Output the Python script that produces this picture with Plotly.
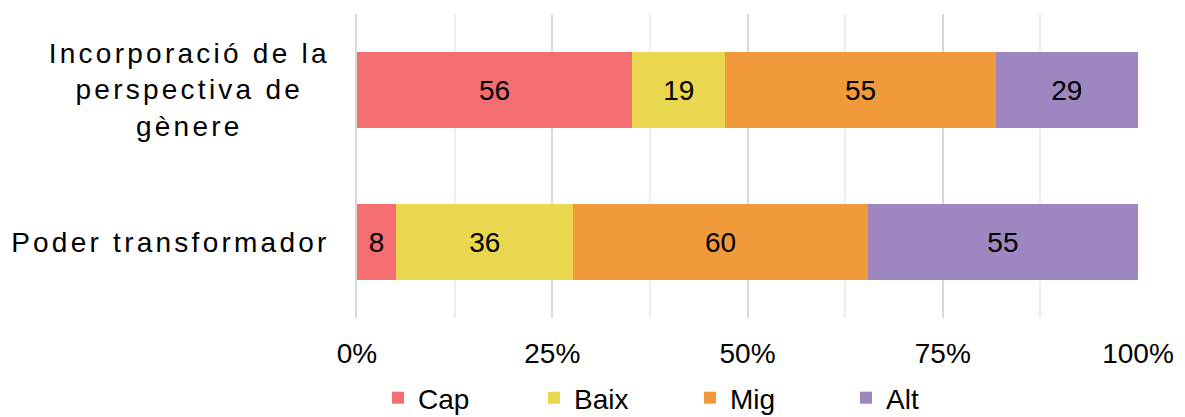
import plotly.graph_objects as go

# Survey results: number of responses per level for each dimension
categories = ["Incorporació de la perspectiva de gènere", "Poder transformador"]
category_labels = ["Incorporació de la<br>perspectiva de<br>gènere", "Poder transformador"]
levels = ["Cap", "Baix", "Mig", "Alt"]
cap = [56, 8]
baix = [19, 36]
mig = [55, 60]
alt = [29, 55]
series = [cap, baix, mig, alt]
colors = ["#f46d70", "#e9d74f", "#f09a3c", "#9e86c0"]
tick_vals = [0, 25, 50, 75, 100]
tick_text = ["0%", "25%", "50%", "75%", "100%"]

W, H = 1185, 417
ML, MR, MT, MB = 357, 47, 14, 99
plot_w = W - ML - MR
plot_h = H - MT - MB
FONT = "Liberation Sans, Arial, sans-serif"

fig = go.Figure()
for name, vals, col in zip(levels, series, colors):
    fig.add_trace(go.Bar(
        name=name,
        y=categories,
        x=vals,
        orientation="h",
        marker=dict(color=col, line=dict(width=0)),
        text=vals,
        texttemplate="%{text}",
        textposition="inside",
        insidetextanchor="middle",
        textangle=0,
        textfont=dict(family=FONT, size=28, color="#000000"),
        hoverinfo="x+y+name",
    ))

# Category labels: centre-aligned text blocks left of the plot
label_centres_px = [189, 170]
for cat, lab, cx in zip(categories, category_labels, label_centres_px):
    fig.add_annotation(
        x=(cx - ML) / plot_w, xref="paper", xanchor="center",
        y=cat, yref="y", yanchor="middle",
        text=lab, align="center", showarrow=False,
        font=dict(family=FONT, size=28, color="#000000"),
    )

fig.update_layout(
    width=W, height=H,
    barmode="stack", barnorm="percent", bargap=0.5,
    margin=dict(l=ML, r=MR, t=MT, b=MB, autoexpand=False),
    paper_bgcolor="white", plot_bgcolor="white",
    showlegend=True,
    legend=dict(
        orientation="h", x=(378 - ML) / plot_w, xanchor="left",
        y=-(398 - (MT + plot_h)) / plot_h, yanchor="middle",
        entrywidth=111, entrywidthmode="pixels",
        font=dict(family=FONT, size=28, color="#000000"),
        itemclick=False, traceorder="normal",
        bgcolor="rgba(0,0,0,0)",
    ),
    xaxis=dict(
        range=[0, 100], tickmode="array", tickvals=tick_vals, ticktext=tick_text,
        showgrid=True, gridcolor="#d9d9d9", gridwidth=2,
        minor=dict(dtick=12.5, showgrid=True, gridcolor="#eeeeee", gridwidth=2),
        zeroline=False, showline=False, ticks="",
        tickfont=dict(family=FONT, size=28, color="#000000"),
        ticklabelstandoff=16,
        fixedrange=True,
    ),
    yaxis=dict(
        categoryorder="array", categoryarray=categories, autorange="reversed",
        showticklabels=False, showgrid=False, zeroline=False,
        showline=True, linecolor="#d9d9d9", linewidth=2, ticks="",
        fixedrange=True,
    ),
)

# Widen the letter spacing of the category labels
spacing_js = """
var gd = document.getElementById('{plot_id}');
function spaceLabels() {
  gd.querySelectorAll('.annotation-text').forEach(function (t) {
    t.style.letterSpacing = '3.25px';
  });
}
spaceLabels();
gd.on('plotly_afterplot', spaceLabels);
"""

fig.write_html("out.html", post_script=spacing_js)
